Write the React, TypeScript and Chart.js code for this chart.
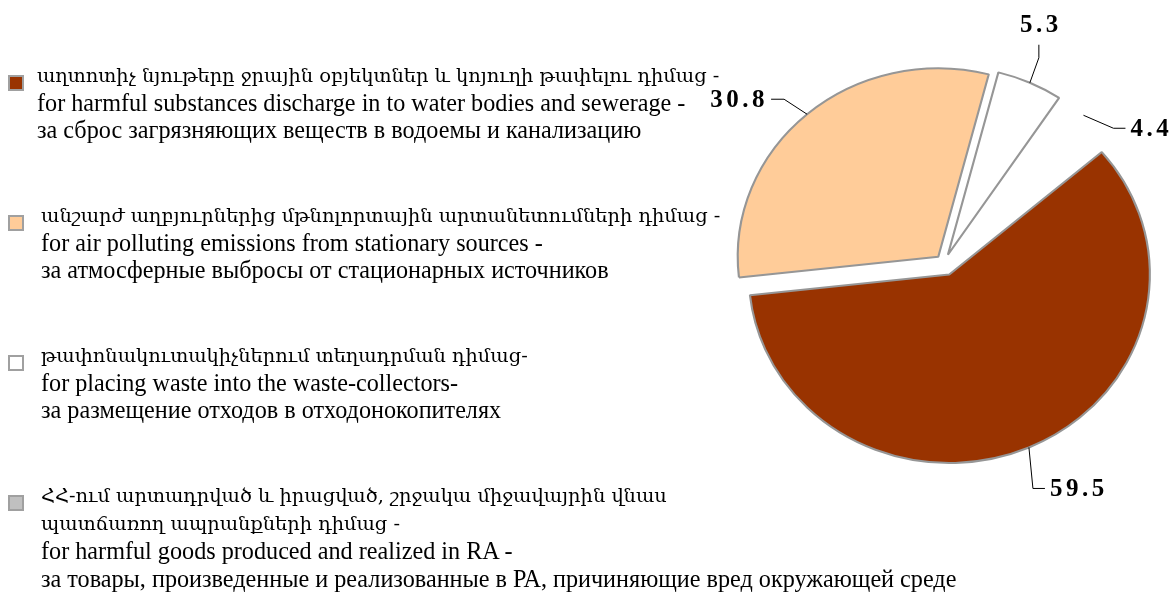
import React, { useEffect, useRef } from "react";
import { Chart, registerables } from "chart.js";

Chart.register(...registerables);

// ---- data ----
const VALUES = [59.5, 30.8, 5.3, 4.4];
const VALUE_LABELS = ["59.5", "30.8", "5.3", "4.4"];
const CATEGORIES_HY = [
  ["աղտոտիչ նյութերը ջրային օբյեկտներ և կոյուղի թափելու դիմաց -"],
  ["անշարժ աղբյուրներից մթնոլորտային արտանետումների դիմաց -"],
  ["թափոնակուտակիչներում տեղադրման դիմաց-"],
  ["ՀՀ-ում արտադրված և իրացված, շրջակա միջավայրին վնաս", "պատճառող ապրանքների դիմաց -"],
];
const CATEGORIES_EN = [
  "for harmful substances discharge in to water bodies and sewerage -",
  "for air polluting emissions from stationary sources -",
  "for placing waste into the waste-collectors-",
  "for harmful goods produced and realized in RA -",
];
const CATEGORIES_RU = [
  "за сброс загрязняющих веществ в водоемы и канализацию",
  "за атмосферные выбросы от стационарных источников",
  "за размещение отходов в отходонокопителях",
  "за товары, произведенные и реализованные в РА, причиняющие вред окружающей среде",
];

// ---- style ----
const LEGEND_COLORS = ["#993300", "#FFCC99", "#FFFFFF", "#C0C0C0"];
const SLICE_COLORS = ["#993300", "#FFCC99", "#FFFFFF", "rgba(0,0,0,0)"];
const SLICE_BORDER_WIDTHS = [2, 2, 2, 0];
const EXPLODE = [12.5, 8.2, 9, 9];
const X_STRETCH = 1.064;
const LEGEND_TOPS = [62, 202, 342, 482];
const LEGEND_LEFTS = [37, 41, 41, 41];
const MARKER_TOPS = [75, 215, 355, 495];
// leader line layout relative to the arc anchor: elbow, tail, text side
const LEADER = [
  { ex: 4, ey: 41, tx: 12, ty: 0, align: "left" },
  { ex: -23, ey: -15, tx: -13, ty: 0, align: "right" },
  { ex: 9, ey: -25, tx: 0, ty: -13, align: "top" },
  { ex: 30, ey: 13, tx: 12, ty: 0, align: "left" },
];

const explodePlugin = {
  id: "explodeStretch",
  beforeDatasetDraw(chart: any, args: any) {
    const meta = args.meta;
    const ctx = chart.ctx;
    const cx = meta.data[0].x;
    const cy = meta.data[0].y;
    meta.data.forEach((arc: any, i: number) => {
      const mid = (arc.startAngle + arc.endAngle) / 2;
      const d = EXPLODE[i];
      ctx.save();
      ctx.translate(cx, cy);
      ctx.scale(X_STRETCH, 1);
      ctx.translate(-cx, -cy);
      ctx.translate(Math.cos(mid) * d, Math.sin(mid) * d);
      arc.draw(ctx);
      ctx.restore();
    });
    return false;
  },
  afterDatasetsDraw(chart: any) {
    const meta = chart.getDatasetMeta(0);
    const ctx = chart.ctx;
    meta.data.forEach((arc: any, i: number) => {
      const mid = (arc.startAngle + arc.endAngle) / 2;
      const r = arc.outerRadius + EXPLODE[i];
      const ax = arc.x + Math.cos(mid) * r * X_STRETCH;
      const ay = arc.y + Math.sin(mid) * r;
      const L = LEADER[i];
      const exx = ax + L.ex;
      const eyy = ay + L.ey;
      const txx = exx + L.tx;
      const tyy = eyy + L.ty;
      ctx.save();
      ctx.strokeStyle = "#000";
      ctx.lineWidth = 1;
      ctx.beginPath();
      ctx.moveTo(ax, ay);
      ctx.lineTo(exx, eyy);
      ctx.lineTo(txx, tyy);
      ctx.stroke();
      ctx.fillStyle = "#000";
      ctx.font = "bold 25px 'Liberation Serif', 'Times New Roman', serif";
      try {
        (ctx as any).letterSpacing = "3.5px";
      } catch (e) {}
      const text = VALUE_LABELS[i];
      if (L.align === "left") {
        ctx.textAlign = "left";
        ctx.textBaseline = "middle";
        ctx.fillText(text, txx + 5, tyy + 1);
      } else if (L.align === "right") {
        ctx.textAlign = "right";
        ctx.textBaseline = "middle";
        ctx.fillText(text, txx - 3, tyy + 1);
      } else {
        ctx.textAlign = "center";
        ctx.textBaseline = "alphabetic";
        ctx.fillText(text, txx + 2, tyy - 13);
      }
      ctx.restore();
    });
  },
};

function App() {
  const canvasRef = useRef<HTMLCanvasElement | null>(null);

  useEffect(() => {
    const canvas = canvasRef.current;
    if (!canvas) return;
    const chart = new Chart(canvas, {
      type: "pie",
      data: {
        labels: CATEGORIES_EN,
        datasets: [
          {
            data: VALUES,
            backgroundColor: SLICE_COLORS,
            borderColor: "#969696",
            borderWidth: SLICE_BORDER_WIDTHS,
          },
        ],
      },
      options: {
        animation: false,
        responsive: false,
        maintainAspectRatio: false,
        devicePixelRatio: 1,
        rotation: 49.5,
        radius: 188.5,
        events: [],
        layout: { padding: { left: 744, right: 31, top: 63, bottom: 130 } },
        plugins: {
          legend: { display: false },
          tooltip: { enabled: false },
        },
      } as any,
      plugins: [explodePlugin as any],
    });
    return () => chart.destroy();
  }, []);

  const latinFont = "'Liberation Serif', 'Times New Roman', serif";
  const armFont = "'DejaVu Serif', 'Liberation Serif', serif";

  return (
    <div
      style={{
        position: "absolute",
        left: 0,
        top: 0,
        width: 1175,
        height: 593,
        background: "#fff",
        overflow: "hidden",
      }}
    >
      <canvas
        ref={canvasRef}
        width={1175}
        height={593}
        style={{ position: "absolute", left: 0, top: 0, width: 1175, height: 593 }}
      />
      {VALUES.map((_, i) => {
        const lh = i === 3 ? 27.7 : 27;
        return (
          <React.Fragment key={i}>
            <div
              style={{
                position: "absolute",
                left: 8,
                top: MARKER_TOPS[i],
                width: 12,
                height: 12,
                background: LEGEND_COLORS[i],
                border: "2px solid #a0a0a0",
              }}
            />
            <div
              style={{
                position: "absolute",
                left: LEGEND_LEFTS[i],
                top: LEGEND_TOPS[i],
                color: "#000",
                whiteSpace: "pre",
              }}
            >
              {CATEGORIES_HY[i].map((t, k) => (
                <div key={"h" + k} style={{ fontFamily: armFont, fontSize: 19.4, lineHeight: lh + "px", height: lh }}>
                  {t}
                </div>
              ))}
              <div style={{ fontFamily: latinFont, fontSize: 24.2, lineHeight: lh + "px", height: lh }}>
                {CATEGORIES_EN[i]}
              </div>
              <div style={{ fontFamily: latinFont, fontSize: 24.2, lineHeight: lh + "px", height: lh }}>
                {CATEGORIES_RU[i]}
              </div>
            </div>
          </React.Fragment>
        );
      })}
    </div>
  );
}

export default App;
